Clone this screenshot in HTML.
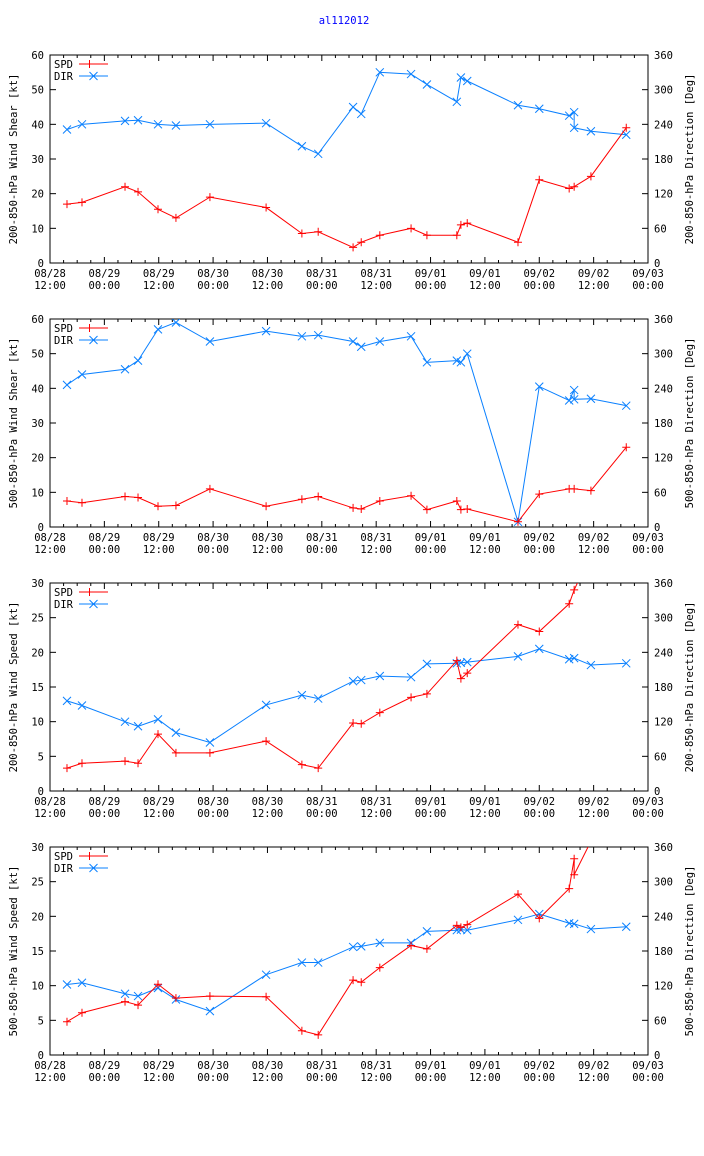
<!DOCTYPE html>
<html><head><meta charset="utf-8"><style>
body{margin:0;background:#fff;}
svg{display:block;font-family:"DejaVu Sans Mono","Liberation Mono",monospace;font-size:10.5px;}
</style></head><body>
<svg id="chart" width="704" height="1156" xmlns="http://www.w3.org/2000/svg">
<text x="344" y="24" fill="#0000ff" text-anchor="middle">al112012</text>
</svg>
<script>
// hours since 08/28 12:00
const tA = [3.75,7.06,16.56,19.43,23.84,27.8,35.3,47.7,55.6,59.2,66.9,68.7,72.8,79.7,83.2,89.8,90.7,92.1,103.3,108,114.6,115.7,119.4,127.2];
const tD1 = [3.75,7.06,16.56,19.43,23.84,27.8,35.3,47.7,55.6,59.2,66.9,68.7,72.8,79.7,83.2,89.8,90.7,92.1,103.3,108,114.6,115.7,115.7,119.4,127.2];
const spd1 = [17,17.5,22,20.5,15.5,13,19,16,8.5,9,4.5,6,8,10,8,8,11,11.5,6,24,21.5,22,25,39];
const dir1 = [231,240,246,247,240,238,240,242,202,189,270,258,330,327,309,279,321,315,273,267,255,261,234,228,222];
const spd2 = [7.5,7,8.8,8.5,6,6.2,11,6,8,8.8,5.5,5.2,7.5,9,5,7.5,5,5.2,1.5,9.5,11,11,10.5,23];
const dir2 = [246,264,273,288,342,354,321,339,330,332,321,312,321,330,285,288,285,300,9,243,219,237,221,222,210];
const tS3 = [3.75,7.06,16.56,19.43,23.84,27.8,35.3,47.7,55.6,59.2,66.9,68.7,72.8,79.7,83.2,89.8,90.7,92.1,103.3,108,114.6,115.7,127.2];
const spd3 = [3.3,4,4.3,4,8.2,5.5,5.5,7.2,3.8,3.3,9.8,9.7,11.3,13.5,14,18.8,16.2,17,24,23,27,29,45];
const tD3 = [3.75,7.06,16.56,19.43,23.84,27.8,35.3,47.7,55.6,59.2,66.9,68.7,72.8,79.7,83.2,89.8,90.7,92.1,103.3,108,114.6,115.7,119.4,127.2];
const dir3 = [156,148,120,112,124,101,84,149,166,160,190,192,199,197,220,221,222,223,233,246,228,230,218,221];
const tS4 = [3.75,7.06,16.56,19.43,23.84,27.8,35.3,47.7,55.6,59.2,66.9,68.7,72.8,79.7,83.2,89.8,90.7,92.1,103.3,108,114.6,115.7,115.7,127.2];
const spd4 = [4.8,6.1,7.7,7.2,10.2,8.2,8.5,8.4,3.5,2.9,10.8,10.5,12.6,15.8,15.3,18.7,18.4,18.8,23.2,19.7,24,28.3,26,41];
const dir4 = [122,125,106,102,116,96,76,139,160,160,187,188,194,194,214,216,217,216,234,244,228,227,218,222];
const xTop = ["08/28","08/29","08/29","08/30","08/30","08/31","08/31","09/01","09/01","09/02","09/02","09/03"];
const xBot = ["12:00","00:00","12:00","00:00","12:00","00:00","12:00","00:00","12:00","00:00","12:00","00:00"];
const panels = [
 {top:55, ymax:60, ystep:10, label:"200-850-hPa Wind Shear [kt]", rlabel:"200-850-hPa Direction [Deg]", ts:tA, s:spd1, td:tD1, d:dir1},
 {top:319, ymax:60, ystep:10, label:"500-850-hPa Wind Shear [kt]", rlabel:"500-850-hPa Direction [Deg]", ts:tA, s:spd2, td:tD1, d:dir2},
 {top:583, ymax:30, ystep:5, label:"200-850-hPa Wind Speed [kt]", rlabel:"200-850-hPa Direction [Deg]", ts:tS3, s:spd3, td:tD3, d:dir3},
 {top:847, ymax:30, ystep:5, label:"500-850-hPa Wind Speed [kt]", rlabel:"500-850-hPa Direction [Deg]", ts:tS4, s:spd4, td:tD3, d:dir4}
];
const svg = document.getElementById('chart');
const NS = "http://www.w3.org/2000/svg";
const L = 50, R = 648, H = 208;
function xs(h){ return L + h*(R-L)/132; }
function mk(tag, attrs, parent){ const e=document.createElementNS(NS,tag); for(const k in attrs) e.setAttribute(k,attrs[k]); (parent||svg).appendChild(e); return e; }
panels.forEach((p,i)=>{
  const T=p.top, B=T+H;
  const g = mk('g',{});
  
  
  const ysL = v => B - v/p.ymax*H;
  const ysR = v => B - v/360*H;
  const cp = mk('clipPath',{id:'c'+i},g); mk('rect',{x:L,y:T,width:R-L,height:H},cp);
  // left ticks
  for(let v=0; v<=p.ymax; v+=p.ystep){
    const y=ysL(v);
    mk('line',{x1:L,y1:y,x2:L+6,y2:y,stroke:'#000'},g);
    const t=mk('text',{x:L-6,y:y+4,'text-anchor':'end'},g); t.textContent=v;
    
    
  }
  for(let v=0; v<=360; v+=60){
    const y=ysR(v);
    mk('line',{x1:R-6,y1:y,x2:R,y2:y,stroke:'#000'},g);
    const t=mk('text',{x:R+6,y:y+4},g); t.textContent=v;
    
    
  }
  for(let h=0; h<=132; h+=3){
    const x=xs(h), len=(h%12===0)?6:3;
    mk('line',{x1:x,y1:B,x2:x,y2:B-len,stroke:'#000'},g);
    mk('line',{x1:x,y1:T,x2:x,y2:T+len,stroke:'#000'},g);
  }
  xTop.forEach((lab,k)=>{
    const x=xs(k*12);
    const t1=mk('text',{x:x,y:B+14,'text-anchor':'middle'},g); t1.textContent=lab;
    
    
    const t2=mk('text',{x:x,y:B+26,'text-anchor':'middle'},g); t2.textContent=xBot[k];
    
    
  });
  mk('rect',{x:L,y:T,width:R-L,height:H,fill:'none',stroke:'#000'},g);
  const yl=mk('text',{x:0,y:0,'text-anchor':'middle',transform:`translate(17,${T+H/2}) rotate(-90)`},g); yl.textContent=p.label;
  
  
  const yr=mk('text',{x:0,y:0,'text-anchor':'middle',transform:`translate(693,${T+H/2}) rotate(-90)`},g); yr.textContent=p.rlabel;
  
  
  const cg=mk('g',{'clip-path':`url(#c${i})`},g);
  // DIR
  const dpts=p.td.map((h,k)=>[xs(h),ysR(p.d[k])]);
  const dl=mk('polyline',{points:dpts.map(q=>q.join(',')).join(' '),fill:'none',stroke:'#0a80ff'},cg);
  
  
  dpts.forEach(([x,y])=>{ const m=mk('path',{d:`M${x-4},${y-4}L${x+4},${y+4}M${x-4},${y+4}L${x+4},${y-4}`,stroke:'#0a80ff'},cg);
    
     });
  // SPD
  const spts=p.ts.map((h,k)=>[xs(h),ysL(p.s[k])]);
  const sl=mk('polyline',{points:spts.map(q=>q.join(',')).join(' '),fill:'none',stroke:'#ff0000'},cg);
  
  
  spts.forEach(([x,y])=>{ const m=mk('path',{d:`M${x-4},${y}L${x+4},${y}M${x},${y-4}L${x},${y+4}`,stroke:'#ff0000'},cg);
    
     });
  // legend
  const lg=mk('g',{},g);
  
  
  const a=mk('text',{x:54,y:T+13},lg); a.textContent='SPD';
  mk('line',{x1:79,y1:T+9,x2:108,y2:T+9,stroke:'#ff0000'},lg);
  mk('path',{d:`M89.5,${T+5}L89.5,${T+13}M85.5,${T+9}L93.5,${T+9}`,stroke:'#ff0000'},lg);
  const b=mk('text',{x:54,y:T+25},lg); b.textContent='DIR';
  mk('line',{x1:79,y1:T+21,x2:108,y2:T+21,stroke:'#0a80ff'},lg);
  mk('path',{d:`M89.5,${T+17}L97.5,${T+25}M89.5,${T+25}L97.5,${T+17}`,stroke:'#0a80ff'},lg);
});
</script>
</body></html>
